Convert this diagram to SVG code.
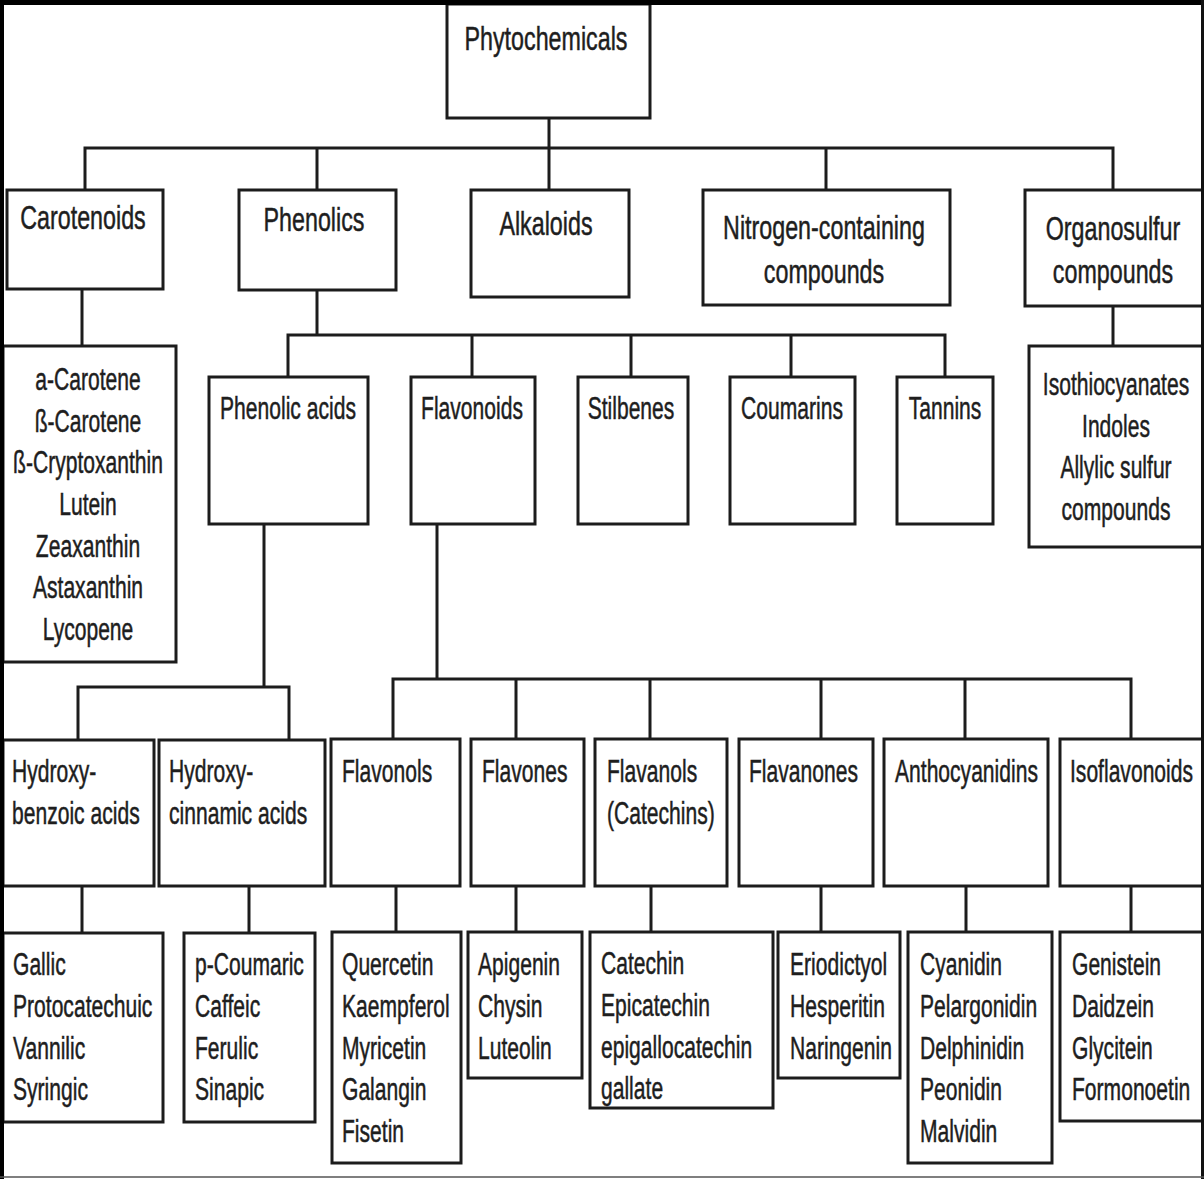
<svg xmlns="http://www.w3.org/2000/svg" width="1204" height="1179" viewBox="0 0 1204 1179">
<style>
.box{fill:#fff;stroke:#1c1c1c;stroke-width:3}
.c{fill:none;stroke:#1c1c1c;stroke-width:3}
text{font-family:"Liberation Sans",Arial,sans-serif;font-size:31px;fill:#1e1e1e;stroke:#1e1e1e;stroke-width:0.5}
.h{font-size:34px}
.m{text-anchor:middle}
</style>
<rect x="0" y="0" width="1204" height="1179" fill="#fff"/>
<g id="connectors">
<path class="c" d="M549,118 V148 M85,190 V148 H1113 V190 M317,148 V190 M549,148 V190 M826,148 V190"/>
<path class="c" d="M82,289 V346 M1113,306 V346"/>
<path class="c" d="M317,290 V335 M288,377 V335 H945 V377 M472,335 V377 M631,335 V377 M791,335 V377"/>
<path class="c" d="M264,524 V687 M78,740 V687 H289 V740"/>
<path class="c" d="M437,524 V679 M393,739 V679 H1131 V739 M516,679 V739 M650,679 V739 M821,679 V739 M965,679 V739"/>
<path class="c" d="M82,886 V932 M249,886 V932 M396,886 V932 M516,886 V932 M651,886 V932 M821,886 V932 M966,886 V932 M1131,886 V932"/>
</g>
<g id="phytochemicals"><rect class="box" x="447" y="4" width="203" height="114"/><text class="h m" transform="translate(546 50) scale(0.685 1)">Phytochemicals</text></g>
<g id="carotenoids"><rect class="box" x="7" y="190" width="156" height="99"/><text class="h m" transform="translate(83 229) scale(0.685 1)">Carotenoids</text></g>
<g id="phenolics"><rect class="box" x="239" y="190" width="157" height="100"/><text class="h m" transform="translate(314 231) scale(0.685 1)">Phenolics</text></g>
<g id="alkaloids"><rect class="box" x="471" y="190" width="158" height="107"/><text class="h m" transform="translate(546 235) scale(0.685 1)">Alkaloids</text></g>
<g id="nitrogen"><rect class="box" x="703" y="190" width="247" height="115"/><text class="h m" transform="translate(824 239) scale(0.685 1)"><tspan x="0">Nitrogen-containing</tspan><tspan x="0" dy="44">compounds</tspan></text></g>
<g id="organosulfur"><rect class="box" x="1025" y="190" width="180" height="116"/><text class="h m" transform="translate(1113 240) scale(0.685 1)"><tspan x="0">Organosulfur</tspan><tspan x="0" dy="43">compounds</tspan></text></g>
<g id="carotene-list"><rect class="box" x="3" y="346" width="173" height="316"/><text class="m" transform="translate(88 390) scale(0.68 1)"><tspan x="0">a-Carotene</tspan><tspan x="0" dy="41.7">ß-Carotene</tspan><tspan x="0" dy="41.7">ß-Cryptoxanthin</tspan><tspan x="0" dy="41.7">Lutein</tspan><tspan x="0" dy="41.7">Zeaxanthin</tspan><tspan x="0" dy="41.7">Astaxanthin</tspan><tspan x="0" dy="41.7">Lycopene</tspan></text></g>
<g id="organosulfur-list"><rect class="box" x="1029" y="346" width="176" height="201"/><text class="m" transform="translate(1116 395) scale(0.68 1)"><tspan x="0">Isothiocyanates</tspan><tspan x="0" dy="41.7">Indoles</tspan><tspan x="0" dy="41.7">Allylic sulfur</tspan><tspan x="0" dy="41.7">compounds</tspan></text></g>
<g id="phenolic-acids"><rect class="box" x="209" y="377" width="159" height="147"/><text class="m" transform="translate(288 419) scale(0.68 1)">Phenolic acids</text></g>
<g id="flavonoids"><rect class="box" x="411" y="377" width="124" height="147"/><text class="m" transform="translate(472 419) scale(0.68 1)">Flavonoids</text></g>
<g id="stilbenes"><rect class="box" x="578" y="377" width="110" height="147"/><text class="m" transform="translate(631 419) scale(0.68 1)">Stilbenes</text></g>
<g id="coumarins"><rect class="box" x="730" y="377" width="125" height="147"/><text class="m" transform="translate(792 419) scale(0.68 1)">Coumarins</text></g>
<g id="tannins"><rect class="box" x="897" y="377" width="96" height="147"/><text class="m" transform="translate(945 419) scale(0.68 1)">Tannins</text></g>
<g id="hydroxybenzoic"><rect class="box" x="3" y="740" width="151" height="146"/><text transform="translate(12 782) scale(0.68 1)"><tspan x="0">Hydroxy-</tspan><tspan x="0" dy="42">benzoic acids</tspan></text></g>
<g id="hydroxycinnamic"><rect class="box" x="159" y="740" width="166" height="146"/><text transform="translate(169 782) scale(0.68 1)"><tspan x="0">Hydroxy-</tspan><tspan x="0" dy="42">cinnamic acids</tspan></text></g>
<g id="flavonols"><rect class="box" x="331" y="739" width="129" height="147"/><text transform="translate(342 782) scale(0.68 1)">Flavonols</text></g>
<g id="flavones"><rect class="box" x="471" y="739" width="113" height="147"/><text transform="translate(482 782) scale(0.68 1)">Flavones</text></g>
<g id="flavanols"><rect class="box" x="595" y="739" width="132" height="147"/><text transform="translate(607 782) scale(0.68 1)"><tspan x="0">Flavanols</tspan><tspan x="0" dy="42">(Catechins)</tspan></text></g>
<g id="flavanones"><rect class="box" x="739" y="739" width="134" height="147"/><text transform="translate(749 782) scale(0.68 1)">Flavanones</text></g>
<g id="anthocyanidins"><rect class="box" x="884" y="739" width="164" height="147"/><text transform="translate(895 782) scale(0.68 1)">Anthocyanidins</text></g>
<g id="isoflavonoids"><rect class="box" x="1060" y="739" width="145" height="147"/><text transform="translate(1070 782) scale(0.68 1)">Isoflavonoids</text></g>
<g id="hydroxybenzoic-list"><rect class="box" x="3" y="933" width="160" height="189"/><text transform="translate(13 975) scale(0.68 1)"><tspan x="0">Gallic</tspan><tspan x="0" dy="42">Protocatechuic</tspan><tspan x="0" dy="42">Vannilic</tspan><tspan x="0" dy="41.5">Syringic</tspan></text></g>
<g id="hydroxycinnamic-list"><rect class="box" x="184" y="933" width="131" height="189"/><text transform="translate(195 975) scale(0.68 1)"><tspan x="0">p-Coumaric</tspan><tspan x="0" dy="42">Caffeic</tspan><tspan x="0" dy="42">Ferulic</tspan><tspan x="0" dy="41.5">Sinapic</tspan></text></g>
<g id="flavonols-list"><rect class="box" x="332" y="932" width="129" height="231"/><text transform="translate(342 975) scale(0.68 1)"><tspan x="0">Quercetin</tspan><tspan x="0" dy="42">Kaempferol</tspan><tspan x="0" dy="42">Myricetin</tspan><tspan x="0" dy="41.5">Galangin</tspan><tspan x="0" dy="41.5">Fisetin</tspan></text></g>
<g id="flavones-list"><rect class="box" x="468" y="932" width="114" height="146"/><text transform="translate(478 975) scale(0.68 1)"><tspan x="0">Apigenin</tspan><tspan x="0" dy="42">Chysin</tspan><tspan x="0" dy="42">Luteolin</tspan></text></g>
<g id="flavanols-list"><rect class="box" x="590" y="932" width="183" height="176"/><text transform="translate(601 974) scale(0.68 1)"><tspan x="0">Catechin</tspan><tspan x="0" dy="42">Epicatechin</tspan><tspan x="0" dy="42">epigallocatechin</tspan><tspan x="0" dy="41">gallate</tspan></text></g>
<g id="flavanones-list"><rect class="box" x="778" y="932" width="122" height="146"/><text transform="translate(790 975) scale(0.68 1)"><tspan x="0">Eriodictyol</tspan><tspan x="0" dy="42">Hesperitin</tspan><tspan x="0" dy="42">Naringenin</tspan></text></g>
<g id="anthocyanidins-list"><rect class="box" x="908" y="932" width="144" height="231"/><text transform="translate(920 975) scale(0.68 1)"><tspan x="0">Cyanidin</tspan><tspan x="0" dy="42">Pelargonidin</tspan><tspan x="0" dy="42">Delphinidin</tspan><tspan x="0" dy="41.5">Peonidin</tspan><tspan x="0" dy="41.5">Malvidin</tspan></text></g>
<g id="isoflavonoids-list"><rect class="box" x="1060" y="932" width="145" height="189"/><text transform="translate(1072 975) scale(0.68 1)"><tspan x="0">Genistein</tspan><tspan x="0" dy="42">Daidzein</tspan><tspan x="0" dy="42">Glycitein</tspan><tspan x="0" dy="41.5">Formonoetin</tspan></text></g>
<g id="frame">
<rect x="0" y="0" width="1204" height="5" fill="#000"/>
<rect x="0" y="0" width="4" height="1179" fill="#000"/>
<rect x="1201" y="0" width="3" height="1179" fill="#111"/>
<line x1="0" y1="1177" x2="1204" y2="1177" stroke="#555" stroke-width="1.5"/>
</g>
</svg>
